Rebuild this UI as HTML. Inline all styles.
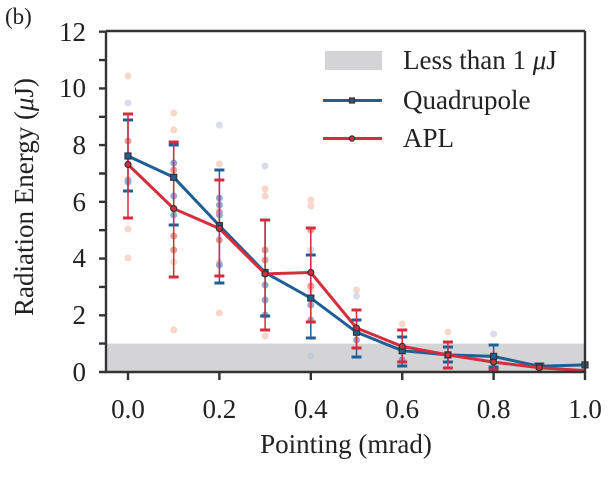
<!DOCTYPE html>
<html><head><meta charset="utf-8"><style>
html,body{margin:0;padding:0;background:#fff;}
svg, svg text{font-family:"Liberation Serif","DejaVu Serif",serif;}
</style></head><body>
<svg width="615" height="473" viewBox="0 0 615 473" font-family="Liberation Serif, serif">
<rect x="106" y="343.6" width="479" height="28.4" fill="#d4d4d6"/>
<g opacity="0.55">
<g fill="#f4b7a0">
<circle cx="128" cy="76" r="3.5"/><circle cx="128" cy="258" r="3.5"/><circle cx="128" cy="229" r="3.5"/>
<circle cx="173.7" cy="113" r="3.5"/><circle cx="173.7" cy="130" r="3.5"/><circle cx="173.7" cy="330" r="3.5"/><circle cx="173.7" cy="262" r="3.5"/>
<circle cx="219.4" cy="164" r="3.5"/><circle cx="219.4" cy="313" r="3.5"/><circle cx="219.4" cy="262" r="3.5"/>
<circle cx="265.1" cy="189" r="3.5"/><circle cx="265.1" cy="196" r="3.5"/><circle cx="265.1" cy="336" r="3.5"/><circle cx="265.1" cy="300" r="3.5"/>
<circle cx="310.8" cy="200" r="3.5"/><circle cx="310.8" cy="206" r="3.5"/><circle cx="310.8" cy="290" r="3.5"/>
<circle cx="356.5" cy="290" r="3.5"/><circle cx="402.2" cy="324" r="3.5"/><circle cx="447.9" cy="332" r="3.5"/>
</g>
<g fill="#d9483e">
<circle cx="128" cy="141" r="3.5"/><circle cx="128" cy="180" r="3.5"/><circle cx="173.7" cy="170" r="3.5"/><circle cx="173.7" cy="236" r="3.5"/><circle cx="173.7" cy="250" r="3.5"/>
<circle cx="219.4" cy="212" r="3.5"/><circle cx="219.4" cy="240" r="3.5"/><circle cx="265.1" cy="250" r="3.5"/><circle cx="265.1" cy="260" r="3.5"/><circle cx="310.8" cy="230" r="3.5"/><circle cx="310.8" cy="286" r="3.5"/>
</g>
<g fill="#b7c3e0">
<circle cx="128" cy="103" r="3.5"/><circle cx="219.4" cy="125" r="3.5"/><circle cx="265.1" cy="166" r="3.5"/><circle cx="310.8" cy="250" r="3.5"/><circle cx="356.5" cy="296" r="3.5"/><circle cx="493.6" cy="334" r="3.5"/><circle cx="310.8" cy="356" r="3.5"/>
</g>
<g fill="#3a6aa8">
<circle cx="128" cy="182" r="3.5"/><circle cx="173.7" cy="163" r="3.5"/><circle cx="173.7" cy="196" r="3.5"/><circle cx="173.7" cy="215" r="3.5"/>
<circle cx="219.4" cy="198" r="3.5"/><circle cx="219.4" cy="205" r="3.5"/><circle cx="219.4" cy="215" r="3.5"/><circle cx="219.4" cy="265" r="3.5"/>
<circle cx="265.1" cy="285" r="3.5"/><circle cx="265.1" cy="300" r="3.5"/><circle cx="265.1" cy="315" r="3.5"/><circle cx="310.8" cy="305" r="3.5"/><circle cx="310.8" cy="320" r="3.5"/><circle cx="356.5" cy="340" r="3.5"/><circle cx="402.2" cy="360" r="3.5"/>
</g>
</g>
<g stroke="#1f5f96" stroke-width="1.5">
<path d="M128 120V191M173.7 145V225M219.4 170V283M265.1 220V316M310.8 255V338M356.5 320V357M402.2 337V366M447.9 347V362M493.6 345V367M539.3 363V370M585 362V368"/>
</g>
<g stroke="#1f5f96" stroke-width="3">
<path d="M123 120h10M123 191h10M168.7 145h10M168.7 225h10M214.4 170h10M214.4 283h10M260.1 220h10M260.1 316h10M305.8 255h10M305.8 338h10M351.5 320h10M351.5 357h10M397.2 337h10M397.2 366h10M442.9 347h10M442.9 362h10M488.6 345h10M488.6 367h10M534.3 364h10"/>
</g>
<g stroke="#d62d3c" stroke-width="1.5">
<path d="M128 114V218M173.7 142V277M219.4 180V276M265.1 220V330M310.8 228V322M356.5 310V348M402.2 330V362M447.9 342V368M493.6 350V372M539.3 364V371"/>
</g>
<g stroke="#d62d3c" stroke-width="3">
<path d="M123 114h10M123 218h10M168.7 142h10M168.7 277h10M214.4 180h10M214.4 276h10M260.1 220h10M260.1 330h10M305.8 228h10M305.8 322h10M351.5 310h10M351.5 348h10M397.2 330h10M397.2 362h10M442.9 342h10M442.9 368h10M488.6 370h10"/>
</g>
<polyline fill="none" stroke="#1f5f96" stroke-width="3" points="128,156 173.7,177.3 219.4,225.6 265.1,272.5 310.8,298.1 356.5,332.2 402.2,350.7 447.9,354.9 493.6,356.4 539.3,366.3 585,364.9"/>
<g fill="#1f5f96" stroke="#333" stroke-width="1.2">
<rect x="125" y="153" width="6" height="6"/><rect x="170.7" y="174.3" width="6" height="6"/><rect x="216.4" y="222.6" width="6" height="6"/><rect x="262.1" y="269.5" width="6" height="6"/><rect x="307.8" y="295.1" width="6" height="6"/><rect x="353.5" y="329.2" width="6" height="6"/><rect x="399.2" y="347.7" width="6" height="6"/><rect x="444.9" y="351.9" width="6" height="6"/><rect x="490.6" y="353.4" width="6" height="6"/><rect x="536.3" y="363.3" width="6" height="6"/><rect x="582" y="361.9" width="6" height="6"/>
</g>
<polyline fill="none" stroke="#d62d3c" stroke-width="3" points="128,164.5 173.7,208.6 219.4,228.5 265.1,273.9 310.8,272.5 356.5,328 402.2,346.4 447.9,354.9 493.6,362.1 539.3,367.7 585,370.6"/>
<g fill="#d62d3c" stroke="#333" stroke-width="1.2">
<circle cx="128" cy="164.5" r="3"/><circle cx="173.7" cy="208.6" r="3"/><circle cx="219.4" cy="228.5" r="3"/><circle cx="265.1" cy="273.9" r="3"/><circle cx="310.8" cy="272.5" r="3"/><circle cx="356.5" cy="328" r="3"/><circle cx="402.2" cy="346.4" r="3"/><circle cx="447.9" cy="354.9" r="3"/><circle cx="493.6" cy="362.1" r="3"/><circle cx="539.3" cy="367.7" r="3"/>
</g>
<g stroke="#333" stroke-width="2.4" fill="none">
<path d="M106 31V372H585V31"/>
<path d="M106 31H585"/>
<path d="M106 372h-7M106 343.6h-7M106 315.3h-7M106 286.9h-7M106 258.6h-7M106 230.2h-7M106 201.8h-7M106 173.5h-7M106 145.1h-7M106 116.8h-7M106 88.4h-7M106 60.1h-7M106 31.7h-7"/>
<path d="M128 372v8M219.4 372v8M310.8 372v8M402.2 372v8M493.6 372v8M585 372v8"/>
</g>
<g font-size="27" fill="#222" text-anchor="end">
<text x="86" y="381">0</text><text x="86" y="324">2</text><text x="86" y="267">4</text><text x="86" y="211">6</text><text x="86" y="154">8</text><text x="86" y="97">10</text><text x="86" y="41">12</text>
</g>
<g font-size="27" fill="#222" text-anchor="middle">
<text x="128" y="418">0.0</text><text x="219.4" y="418">0.2</text><text x="310.8" y="418">0.4</text><text x="402.2" y="418">0.6</text><text x="493.6" y="418">0.8</text><text x="585" y="418">1.0</text>
<text x="346" y="453">Pointing (mrad)</text>
<text transform="translate(33 197) rotate(-90)">Radiation Energy (<tspan font-style="italic">μ</tspan>J)</text>
</g>
<text x="5" y="24" font-size="23" fill="#222">(b)</text>
<rect x="325" y="51" width="57" height="19" fill="#d4d4d6"/>
<text x="403" y="69" font-size="27" fill="#222">Less than 1 <tspan font-style="italic">μ</tspan>J</text>
<line x1="323" y1="100.5" x2="382" y2="100.5" stroke="#1f5f96" stroke-width="3"/>
<rect x="349.5" y="98" width="5" height="5" fill="#1f5f96" stroke="#333" stroke-width="1.2"/>
<text x="403" y="109" font-size="27" fill="#222">Quadrupole</text>
<line x1="323" y1="138.5" x2="382" y2="138.5" stroke="#d62d3c" stroke-width="3"/>
<circle cx="352" cy="138.5" r="2.6" fill="#d62d3c" stroke="#333" stroke-width="1.2"/>
<text x="403" y="147" font-size="27" fill="#222">APL</text>
</svg>
</body></html>
